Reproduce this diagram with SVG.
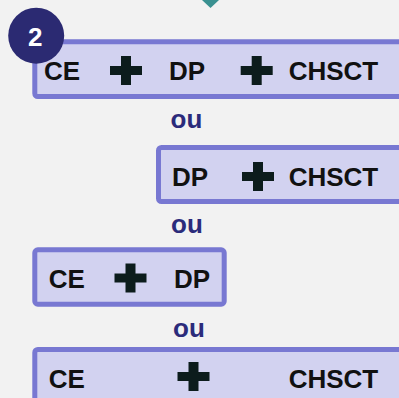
<svg xmlns="http://www.w3.org/2000/svg" width="399" height="398" viewBox="0 0 399 398">
<style>
.box{fill:#d2d2f0;stroke:#7878d2;stroke-width:5}
.t{font-family:"Liberation Sans",Arial,sans-serif;font-weight:bold;font-size:26px;fill:#111111}
.ou{font-family:"Liberation Sans",Arial,sans-serif;font-weight:bold;font-size:26px;fill:#2b2b7b}
.plus{fill:#0c1c1c}
</style>
<defs>
<path id="plus" d="M-5,-14.5 H5 V-4.5 H16 V4.5 H5 V14.5 H-5 V4.5 H-16 V-4.5 H-5 Z"/>
</defs>
<rect width="399" height="398" fill="#f2f2f2"/>
<polygon id="pointer" points="202,0 219,0 210.5,8" fill="#3a9191"/>
<g id="connectors"/>
<g id="option1">
<rect class="box" x="34.8" y="41.8" width="380" height="54.7" rx="3"/>
<text class="t" x="44" y="80">CE</text>
<use href="#plus" class="plus" x="126" y="70.5"/>
<text class="t" x="169" y="80">DP</text>
<use href="#plus" class="plus" x="256.7" y="70.5"/>
<text class="t" x="288.7" y="80">CHSCT</text>
</g>
<g id="badge">
<circle cx="36.2" cy="35.7" r="28" fill="#2b2a72"/>
<text x="35.2" y="45.5" text-anchor="middle" style="font-family:'Liberation Sans',Arial,sans-serif;font-weight:bold;font-size:26px;fill:#ffffff">2</text>
</g>
<g id="ou1"><text class="ou" x="170.5" y="128">ou</text></g>
<g id="option2">
<rect class="box" x="158.5" y="147.5" width="260" height="54" rx="3"/>
<text class="t" x="172" y="186">DP</text>
<use href="#plus" class="plus" x="258" y="176.5"/>
<text class="t" x="288.7" y="186">CHSCT</text>
</g>
<g id="ou2"><text class="ou" x="171" y="233">ou</text></g>
<g id="option3">
<rect class="box" x="34.8" y="249.8" width="189.4" height="54.4" rx="3"/>
<text class="t" x="48.7" y="288">CE</text>
<use href="#plus" class="plus" x="130.5" y="278"/>
<text class="t" x="174" y="288">DP</text>
</g>
<g id="ou3"><text class="ou" x="173" y="337">ou</text></g>
<g id="option4">
<rect class="box" x="34.8" y="349.5" width="380" height="60" rx="3"/>
<text class="t" x="48.7" y="388">CE</text>
<use href="#plus" class="plus" x="193.5" y="376.5"/>
<text class="t" x="288.7" y="388">CHSCT</text>
</g>
</svg>
